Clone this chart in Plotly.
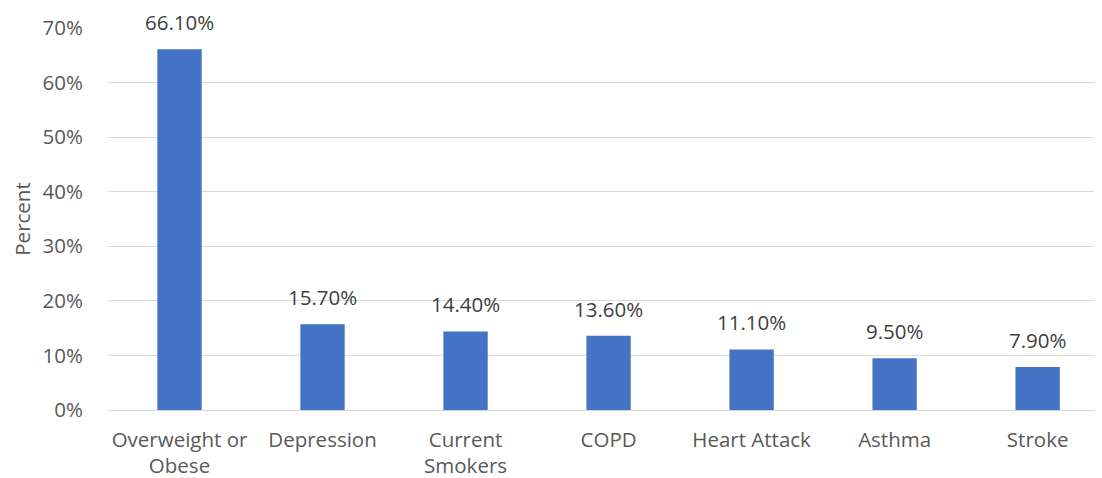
import plotly.graph_objects as go

categories = ["Overweight or<br>Obese", "Depression", "Current<br>Smokers", "COPD",
              "Heart Attack", "Asthma", "Stroke"]
values = [66.1, 15.7, 14.4, 13.6, 11.1, 9.5, 7.9]
labels = [f"{v:.2f}%" for v in values]
y_ticks = [0, 10, 20, 30, 40, 50, 60, 70]
y_tick_text = [f"{t}%" for t in y_ticks]

FONT = "Open Sans, sans-serif"
FS = 20.5
xs = list(range(len(categories)))

fig = go.Figure(go.Bar(
    x=xs,
    y=values,
    marker=dict(color="#4472C4", line=dict(width=0)),
    width=0.31,
    hoverinfo="skip",
))

for x, v, t in zip(xs, values, labels):
    fig.add_annotation(x=x, y=v, text=t, showarrow=False, yanchor="bottom",
                       yshift=11, font=dict(size=FS, color="#404040", family=FONT))

fig.update_layout(
    width=1094, height=470,
    margin=dict(l=100, r=0, t=20, b=68),
    paper_bgcolor="white", plot_bgcolor="white",
    font=dict(family=FONT, color="#595959", size=FS),
    showlegend=False,
)
fig.update_xaxes(
    range=[-0.5, 6.45],
    tickmode="array", tickvals=xs, ticktext=categories,
    showgrid=False, zeroline=False, showline=False, ticks="",
    ticklabelstandoff=15, automargin=False,
    tickfont=dict(size=FS, color="#595959", family=FONT),
)
fig.update_yaxes(
    range=[0, 70],
    tickmode="array", tickvals=y_ticks, ticktext=y_tick_text,
    showgrid=True, gridcolor="#d9d9d9", gridwidth=1,
    zeroline=True, zerolinecolor="#d9d9d9", zerolinewidth=1,
    showline=False, ticks="", ticklabelstandoff=24, automargin=False,
    tickfont=dict(size=FS, color="#595959", family=FONT),
    title=dict(text="Percent", font=dict(size=FS, color="#595959", family=FONT), standoff=18),
)

fig.write_html("out.html")
